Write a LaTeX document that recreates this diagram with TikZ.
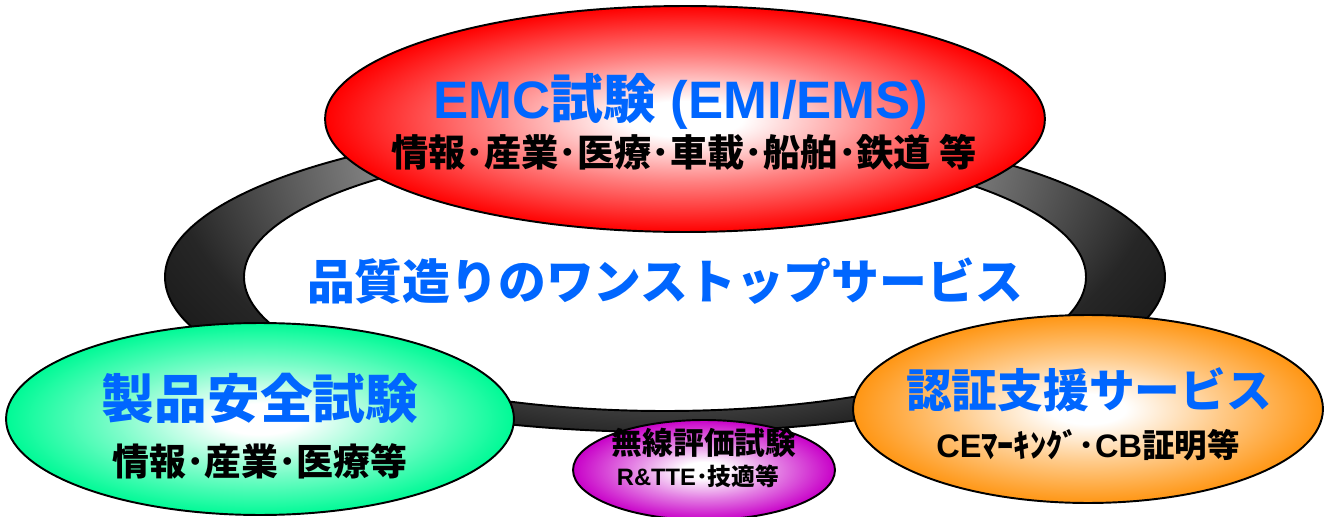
\documentclass[tikz,border=0pt]{standalone}
\usepackage{fontspec}
\newfontfamily\jpfont{Noto Sans CJK JP}
\newfontfamily\latinfont{Liberation Sans}
\usetikzlibrary{shapes.geometric}

\definecolor{headblue}{RGB}{0,102,255}
\definecolor{emcred}{RGB}{255,0,0}
\definecolor{safegreen}{RGB}{0,250,150}
\definecolor{radiopurple}{RGB}{200,0,200}
\definecolor{certorange}{RGB}{255,150,20}

\colorlet{glowin}{white}
\colorlet{glowout}{red}
\pgfdeclareradialshading[glowin,glowout]{glow}{\pgfpoint{0bp}{0bp}}{color(0bp)=(glowin); color(4bp)=(glowin); color(14bp)=(glowout!50!glowin); color(25bp)=(glowout); color(50bp)=(glowout)}
\pgfdeclareradialshading{ringshade}{\pgfpoint{0bp}{0bp}}{color(0bp)=(white); color(12bp)=(black!50); color(20bp)=(black!85); color(25bp)=(black!92); color(50bp)=(black)}

\tikzset{
  bubble/.style={ellipse, draw=black, line width=1.1pt, shade, shading=glow, /utils/exec={\colorlet{glowout}{#1}}},
  head/.style={text=headblue, inner sep=0pt, font=\jpfont\bfseries\fontsize{#1}{#1}\selectfont},
  sub/.style={text=black, inner sep=0pt, font=\jpfont\bfseries\fontsize{#1}{#1}\selectfont}
}

\begin{document}
\begin{tikzpicture}[x=0.02cm, y=-0.02cm]
            \useasboundingbox (0,0) rectangle (1329,517);
            % ring
            \begin{scope}
            \clip (665,277) ellipse [x radius=500, y radius=155];
            \shade[shading=ringshade] (665,150) ellipse [x radius=620, y radius=360];
            \end{scope}
            \draw[line width=1.1pt] (665,277) ellipse [x radius=500, y radius=155];
            \filldraw[fill=white, line width=1.1pt] (665,277) ellipse [x radius=421, y radius=134];
            \node[head=27.2] (onestop) at (665,281) {品質造りのワンストップサービス};
            % bubbles
            \node[bubble=emcred, minimum width=14.4cm, minimum height=4.52cm] (emc) at (685,119) {};
            \node[bubble=safegreen, minimum width=10.16cm, minimum height=3.84cm] (safety) at (260,419) {};
            \node[bubble=certorange, minimum width=9.4cm, minimum height=3.76cm] (cert) at (1088,409) {};
            \node[bubble=radiopurple, minimum width=5.24cm, minimum height=2cm] (radio) at (704,470) {};
            % texts
            \node[head=30] (emcT) at (681,101) {{\latinfont EMC}試験{\latinfont\ (EMI/EMS)}};
            \node[sub=21.2] (emcS) at (684,152) {情報･産業･医療･車載･船舶･鉄道 等};
            \node[head=30] (safetyT) at (260,398) {製品安全試験};
            \node[sub=21] (safetyS) at (260,461) {情報･産業･医療等};
            \node[sub=17.5] (radioT) at (704,443) {無線評価試験};
            \node[sub=13.5] (radioS) at (698,476) {{\latinfont R\&TTE}･技適等};
            \node[head=26] (certT) at (1089,390) {認証支援サービス};
            \node[sub=18.5] (certS) at (1088,445) {{\latinfont CE}ﾏｰｷﾝｸﾞ･{\latinfont CB}証明等};
        \end{tikzpicture}
\end{document}
